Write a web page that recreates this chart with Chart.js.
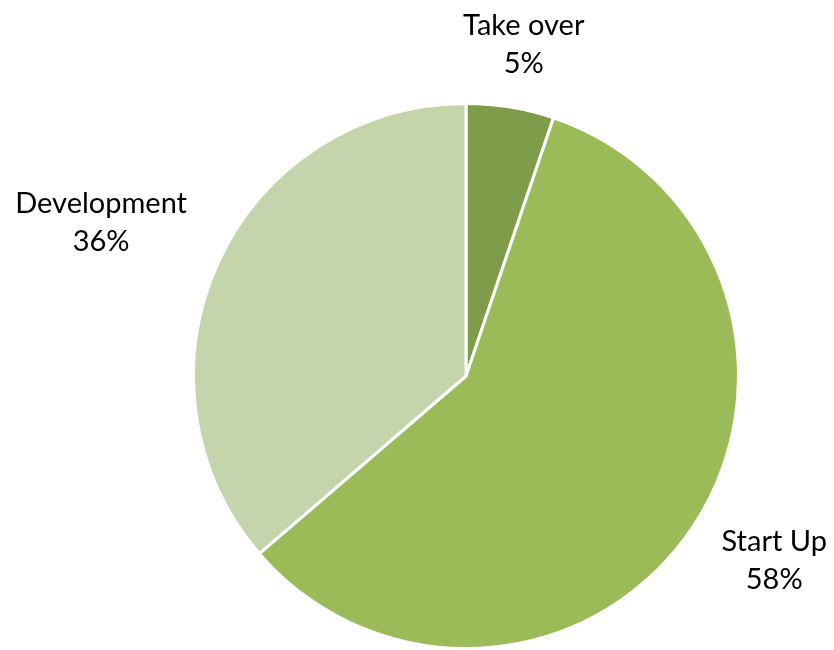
<!DOCTYPE html>
<html>
<head>
<meta charset="utf-8">
<script src="https://cdn.jsdelivr.net/npm/chart.js@4"></script>
<style>
  html, body { margin: 0; padding: 0; background: #fff; }
  #wrap { width: 834px; height: 650px; }
</style>
</head>
<body>
<div id="wrap"><canvas id="chart"></canvas></div>
<script>
const labels = ['Take over', 'Start Up', 'Development'];
const values = [5.2, 58.5, 36.3];
const percentLabels = ['5%', '58%', '36%'];
const sliceColors = ['#7f9c4a', '#9bbb59', '#c5d5ab'];

// label centres relative to pie centre, in units of radius
const labelOffsets = [[0.212, -1.215], [1.131, 0.679], [-1.339, -0.562]];

const outsideLabels = {
    id: 'outsideLabels',
    afterDatasetsDraw(chart) {
        const ctx = chart.ctx;
        const meta = chart.getDatasetMeta(0);
        ctx.save();
        ctx.font = '29px Lato, "Open Sans", sans-serif';
        ctx.fillStyle = '#000';
        ctx.textAlign = 'center';
        ctx.textBaseline = 'middle';
        meta.data.forEach((arc, i) => {
            const r = arc.outerRadius;
            const x = arc.x + labelOffsets[i][0] * r;
            const y = arc.y + labelOffsets[i][1] * r;
            ctx.fillText(chart.data.labels[i], x, y - 19);
            ctx.fillText(percentLabels[i], x, y + 19);
        });
        ctx.restore();
    }
};

const config = {
    type: 'pie',
    data: {
        labels: labels,
        datasets: [{
            data: values,
            backgroundColor: sliceColors,
            borderColor: '#ffffff',
            borderWidth: 3
        }]
    },
    options: {
        responsive: true,
        maintainAspectRatio: false,
        animation: false,
        layout: {
            padding: { left: 187, right: 89, top: 102, bottom: -10 }
        },
        plugins: {
            legend: { display: false },
            tooltip: { enabled: false }
        }
    },
    plugins: [outsideLabels]
};

new Chart(document.getElementById('chart'), config);
</script>
</body>
</html>
